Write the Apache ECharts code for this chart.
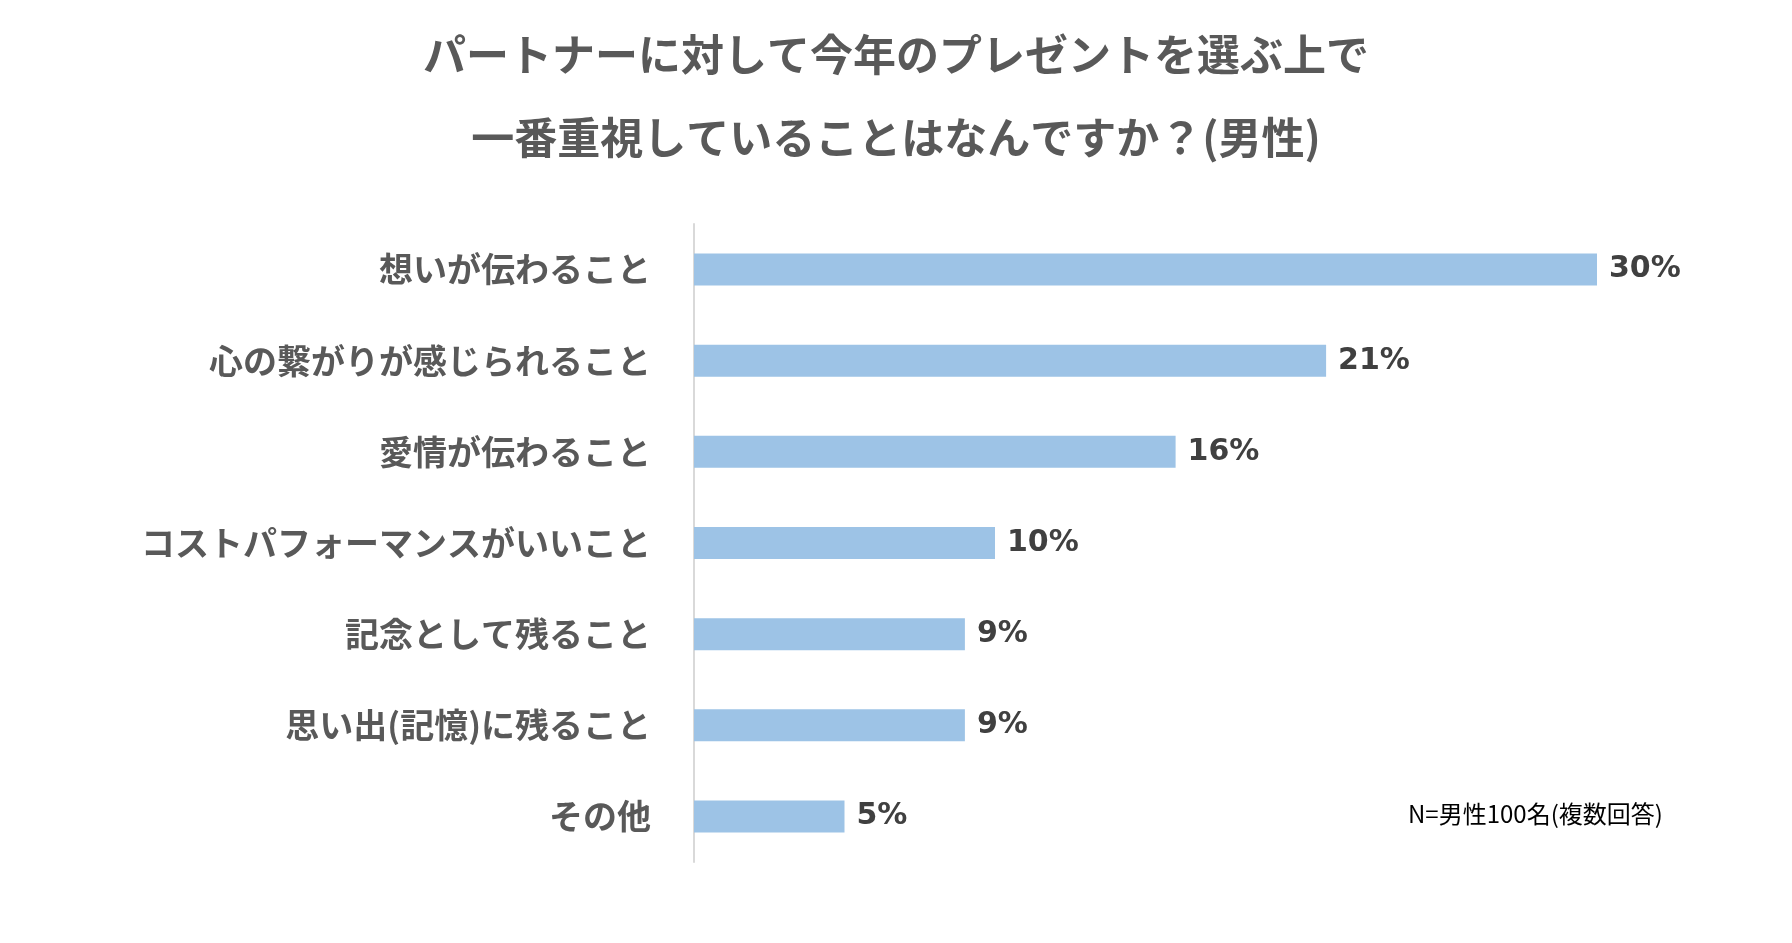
<!DOCTYPE html>
<html>
<head>
<meta charset="utf-8">
<script src="https://cdn.jsdelivr.net/npm/echarts@6/dist/echarts.min.js"></script>
<style>
html, body { margin: 0; padding: 0; background: #fff; }
#chart { width: 1792px; height: 943px; }
</style>
</head>
<body>
<div id="chart"></div>
<script>
// 項目 (上から順)
var categories = ['想いが伝わること', '心の繋がりが感じられること', '愛情が伝わること', 'コストパフォーマンスがいいこと', '記念として残ること', '思い出(記憶)に残ること', 'その他'];
var values = [30, 21, 16, 10, 9, 9, 5];

var font = '"Noto Sans CJK JP", sans-serif';
var numFont = '"DejaVu Sans", sans-serif';

var myChart = echarts.init(document.getElementById('chart'));

var option = {
	backgroundColor: '#ffffff',
	title: {
		text: 'パートナーに対して今年のプレゼントを選ぶ上で\n一番重視していることはなんですか？(男性)',
		left: 'center',
		top: 8,
		textStyle: {
			fontFamily: font,
			fontSize: 43,
			fontWeight: 'bold',
			color: '#595959',
			lineHeight: 83
		}
	},
	graphic: [{
		type: 'text',
		left: 1408,
		top: 802,
		style: {
			text: 'N=男性100名(複数回答)',
			font: '24px ' + font,
			fill: '#000000'
		}
	}],
	grid: {
		left: 694,
		right: 195,
		top: 224,
		bottom: 81
	},
	xAxis: {
		type: 'value',
		min: 0,
		max: 30,
		show: false
	},
	yAxis: {
		type: 'category',
		inverse: true,
		data: categories,
		axisLine: { show: true, lineStyle: { color: '#d9d9d9', width: 2 } },
		axisTick: { show: false },
		axisLabel: {
			margin: 43,
			fontFamily: font,
			fontSize: 34,
			fontWeight: 'bold',
			color: '#595959'
		}
	},
	series: [{
		type: 'bar',
		data: values,
		barWidth: 32,
		itemStyle: { color: '#9dc3e6' },
		label: {
			show: true,
			position: 'right',
			distance: 12,
			formatter: '{c}%',
			fontFamily: numFont,
			fontSize: 30,
			fontWeight: 'bold',
			color: '#404040'
		}
	}]
};

myChart.setOption(option);
</script>
</body>
</html>
